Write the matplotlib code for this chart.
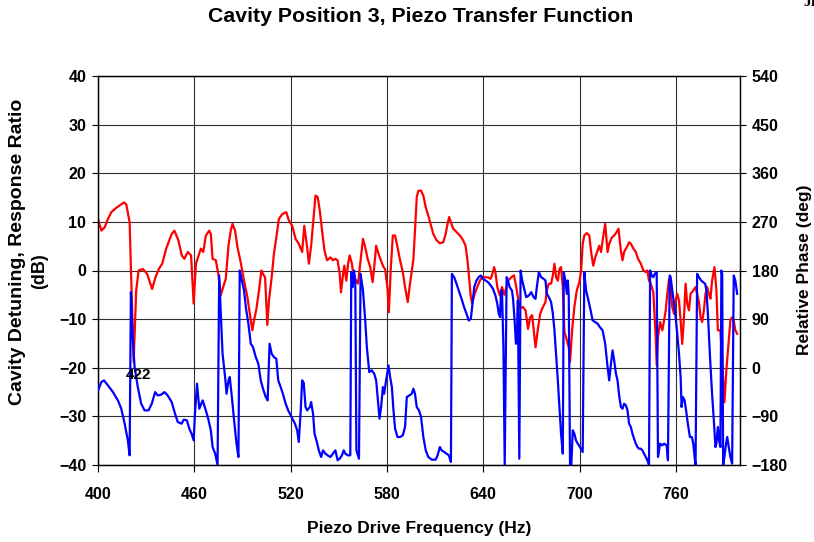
import matplotlib
matplotlib.use('Agg')
import matplotlib.pyplot as plt

# response ratio in dB (left axis)
red_freq = [
    400.0, 402.1, 404.2, 406.2, 408.3, 411.4, 414.5, 416.2, 417.6, 419.7,
    422.2, 423.8, 425.3, 428.0, 430.6, 433.7, 435.8, 437.9, 440.0, 442.5,
    445.9, 447.6, 450.1, 452.2, 453.8, 455.9, 458.0, 459.6, 461.0, 463.1,
    464.1, 465.6, 467.2, 469.3, 470.3, 471.4, 473.4, 475.1, 476.5, 478.0,
    479.6, 481.3, 482.7, 483.8, 485.4, 486.9, 488.9, 491.0, 493.1, 495.2,
    496.2, 497.2, 498.7, 500.3, 501.8, 502.8, 504.1, 505.5, 506.5, 508.2,
    509.6, 511.1, 512.7, 514.8, 517.3, 518.9, 521.0, 523.1, 525.1, 527.2,
    528.5, 530.3, 531.4, 532.8, 534.0, 535.5, 536.9, 538.2, 539.6, 541.1,
    542.7, 544.8, 546.4, 547.9, 549.3, 550.6, 551.4, 552.7, 553.5, 554.7,
    555.8, 556.8, 558.2, 559.3, 560.9, 562.0, 563.4, 565.1, 566.5, 568.0,
    569.6, 571.1, 572.1, 573.3, 574.8, 576.2, 577.9, 578.9, 580.4, 581.2,
    582.4, 583.7, 585.1, 586.6, 588.2, 589.9, 591.3, 593.0, 594.4, 596.5,
    597.5, 598.6, 599.6, 601.3, 602.7, 604.2, 605.8, 607.5, 608.9, 611.0,
    613.0, 615.1, 616.6, 617.8, 618.8, 619.9, 621.3, 623.4, 625.5, 627.5,
    629.0, 630.2, 631.2, 632.3, 633.1, 634.4, 635.8, 637.9, 639.3, 641.0,
    643.0, 644.7, 646.1, 646.8, 647.6, 648.8, 650.3, 651.7, 653.2, 655.4,
    657.5, 659.2, 660.6, 662.7, 664.8, 666.4, 667.9, 669.3, 670.5, 671.4,
    672.6, 674.1, 675.5, 677.2, 678.8, 679.6, 680.9, 682.3, 683.4, 684.4,
    685.4, 686.5, 687.5, 688.5, 689.6, 690.6, 691.6, 693.3, 694.1, 695.4,
    696.8, 698.3, 699.9, 701.0, 702.0, 703.0, 704.5, 706.1, 707.4, 708.6,
    709.8, 711.3, 712.3, 713.4, 714.4, 716.0, 717.5, 718.5, 720.2, 721.6,
    723.1, 724.3, 725.8, 726.8, 727.8, 729.5, 730.9, 732.0, 733.6, 735.1,
    736.5, 738.2, 739.8, 741.3, 742.3, 743.3, 744.4, 746.0, 747.5, 748.1,
    748.9, 750.2, 751.6, 752.7, 753.7, 754.7, 755.8, 756.8, 757.8, 758.9,
    759.9, 760.9, 762.0, 763.0, 764.0, 765.1, 766.1, 767.1, 768.2, 769.2,
    770.9, 772.3, 773.3, 774.4, 775.4, 776.4, 777.5, 778.5, 779.5, 780.6,
    781.6, 782.6, 784.1, 785.3, 786.2, 787.8, 789.5, 790.3, 791.5, 793.0,
    794.0, 795.1, 796.1, 797.1, 798.2,
]
red_db = [
    10.6, 8.2, 8.9, 10.6, 12.0, 12.9, 13.6, 14.0, 13.6, 9.9,
    -18.8, -4.1, 0.0, 0.3, -0.7, -3.8, -1.4, 0.3, 1.4, 4.5,
    7.5, 8.2, 6.2, 3.1, 2.4, 3.8, 3.1, -6.8, 1.4, 3.5,
    4.5, 3.8, 7.2, 8.2, 7.5, 2.4, 2.1, -1.0, -5.1, -3.4,
    -1.7, 5.1, 8.2, 9.6, 8.2, 4.8, 1.7, -2.1, -5.5, -10.3,
    -12.3, -10.3, -7.9, -4.1, 0.0, -0.7, -1.4, -11.2, -6.2, -1.4,
    3.4, 6.8, 10.6, 11.6, 12.0, 10.3, 9.2, 6.5, 5.5, 3.8,
    9.2, 4.8, 1.4, 5.1, 9.6, 15.4, 15.1, 12.3, 8.2, 4.1,
    2.1, 2.7, 2.1, 2.4, 2.1, -0.7, -4.5, -0.7, 1.0, -2.1,
    1.4, 3.1, 1.4, -1.4, -2.1, -2.7, 1.4, 6.5, 4.8, 2.4,
    0.7, -2.4, 0.7, 5.1, 3.4, 2.1, 0.7, 0.3, -3.8, -8.6,
    0.3, 7.2, 7.2, 4.8, 2.1, -0.3, -3.4, -6.5, -2.7, 2.3,
    8.2, 15.1, 16.4, 16.4, 15.4, 13.0, 11.3, 9.2, 7.5, 6.2,
    5.6, 5.8, 7.5, 9.6, 11.0, 9.9, 8.6, 7.9, 7.2, 6.2,
    5.1, 2.1, -1.4, -5.5, -6.8, -5.1, -3.8, -2.1, -1.4, -1.4,
    -1.4, -1.7, -0.3, 0.7, -0.3, -3.4, -5.1, -3.4, -5.0, -2.1,
    -1.4, -1.0, -3.4, -7.8, -7.5, -8.2, -12.0, -9.6, -9.2, -12.0,
    -15.8, -12.0, -8.9, -7.5, -6.5, -4.1, -2.7, -2.7, -1.0, 1.4,
    -1.4, -2.1, 0.3, 0.7, -3.4, -12.7, -13.7, -15.8, -18.8, -12.3,
    -7.5, -4.1, -2.4, 0.0, 5.5, 7.2, 7.7, 7.2, 3.4, 1.0,
    2.7, 4.1, 5.1, 3.8, 6.2, 9.6, 3.8, 5.5, 6.8, 7.2,
    7.9, 8.6, 4.0, 2.1, 3.8, 4.8, 5.8, 5.5, 4.5, 3.8,
    2.4, 1.4, 0.0, -0.3, 0.0, -2.1, -2.7, -4.5, -13.7, -19.5,
    -13.7, -10.6, -12.3, -10.3, -8.2, -4.8, -1.7, -4.1, -7.5, -8.9,
    -6.2, -4.8, -6.2, -10.3, -15.1, -9.6, -2.7, -6.8, -8.2, -4.8,
    -4.1, -3.4, -4.8, -6.5, -9.6, -10.6, -8.2, -4.8, -3.4, -4.8,
    -5.8, -2.1, 0.7, -4.1, -12.3, -12.3, -22.6, -27.1, -20.5, -14.4,
    -10.3, -9.6, -10.3, -12.3, -13.0,
]

# relative phase in degrees (right axis)
blue_freq = [
    400.0, 402.1, 403.7, 406.2, 409.3, 412.4, 414.5, 416.6, 418.6, 419.7,
    420.5, 421.5, 422.8, 424.8, 426.9, 429.0, 431.5, 433.5, 435.6, 437.2,
    439.3, 441.4, 443.4, 445.9, 448.0, 449.7, 452.1, 453.4, 455.4, 456.9,
    458.3, 459.6, 460.4, 461.7, 463.1, 465.2, 467.2, 468.9, 470.3, 471.4,
    473.0, 474.5, 475.5, 476.5, 477.6, 479.2, 480.1, 481.3, 482.1, 483.4,
    484.8, 486.3, 487.5, 488.3, 489.6, 491.0, 492.1, 493.7, 495.2, 496.6,
    498.3, 499.9, 501.4, 502.8, 504.5, 505.7, 506.9, 508.2, 509.6, 511.1,
    512.3, 513.8, 515.2, 516.9, 518.5, 520.6, 522.7, 524.1, 525.1, 526.2,
    527.2, 528.2, 529.3, 530.3, 532.0, 532.8, 534.0, 534.9, 536.1, 537.6,
    539.0, 540.2, 541.7, 543.1, 544.8, 546.4, 547.9, 549.3, 550.6, 552.0,
    553.1, 554.1, 555.6, 557.2, 557.8, 558.7, 559.5, 560.3, 561.0, 562.6,
    563.6, 565.1, 566.5, 567.5, 569.0, 570.6, 572.1, 573.3, 574.2, 575.4,
    576.4, 577.5, 578.3, 579.5, 581.0, 582.0, 583.1, 584.1, 585.1, 586.6,
    588.2, 589.9, 591.3, 592.4, 594.0, 595.5, 596.5, 597.5, 598.6, 600.0,
    601.3, 602.7, 604.2, 605.8, 607.9, 610.4, 611.6, 613.0, 614.1, 615.7,
    617.2, 618.6, 619.9, 620.5, 621.9, 623.4, 624.8, 626.5, 628.1, 629.6,
    631.0, 632.3, 633.1, 634.4, 635.8, 637.2, 638.5, 639.9, 641.4, 643.0,
    644.7, 646.1, 647.6, 648.8, 649.7, 650.5, 651.1, 651.7, 652.6, 653.4,
    654.6, 655.4, 656.5, 657.9, 658.6, 659.6, 660.4, 661.0, 661.6, 662.5,
    663.3, 664.3, 665.8, 666.8, 668.5, 669.9, 671.4, 672.6, 673.4, 674.7,
    676.1, 677.6, 678.8, 679.6, 680.9, 682.3, 683.4, 684.4, 685.4, 686.5,
    687.5, 688.5, 689.6, 690.2, 691.2, 692.1, 692.7, 693.3, 694.1, 694.9,
    695.8, 696.8, 697.8, 698.9, 700.3, 702.0, 703.0, 704.1, 705.1, 706.5,
    708.2, 709.8, 711.3, 712.7, 714.4, 716.0, 717.5, 718.5, 719.6, 720.6,
    721.6, 722.7, 723.7, 724.7, 725.8, 726.8, 727.8, 728.9, 729.9, 730.9,
    732.0, 733.0, 734.0, 735.1, 736.1, 737.1, 738.2, 739.2, 740.2, 741.3,
    742.3, 743.3, 744.0, 745.0, 746.0, 746.9, 748.1, 748.9, 750.2, 751.6,
    752.7, 754.3, 755.1, 756.2, 756.8, 757.8, 758.9, 759.9, 760.9, 762.0,
    763.0, 763.6, 764.4, 765.5, 766.7, 767.5, 768.8, 770.0, 770.9, 771.7,
    772.3, 773.3, 774.4, 775.8, 777.1, 778.3, 779.1, 780.0, 781.2, 782.6,
    783.7, 784.7, 785.3, 786.2, 787.0, 787.8, 788.4, 788.9, 789.5, 790.3,
    791.3, 792.0, 793.0, 794.0, 795.1, 796.1, 797.1, 798.2,
]
blue_deg = [
    -41.9, -26.5, -23.4, -32.7, -45.0, -60.4, -75.8, -103.5, -134.4, -162.1,
    139.9, 62.9, 1.3, -35.7, -66.5, -78.9, -78.9, -66.5, -45.0, -51.2,
    -49.9, -45.0, -51.2, -63.5, -85.1, -100.5, -103.5, -96.1, -97.4, -112.8,
    -122.0, -134.4, -85.1, -29.6, -75.8, -60.4, -78.9, -97.4, -115.9, -146.7,
    -159.0, -180.0, 170.8, 99.9, 26.0, -17.2, -48.1, -23.4, -17.2, -54.2,
    -97.4, -140.5, -165.2, 180.0, 161.5, 143.0, 112.2, 81.4, 44.4, 38.2,
    19.7, 7.4, -23.4, -38.8, -54.2, -60.4, 44.4, 25.9, 19.7, 16.7,
    -23.4, -35.7, -48.1, -66.6, -78.9, -91.2, -103.5, -115.9, -137.4, -85.1,
    -23.4, -28.0, -72.7, -78.9, -72.7, -63.5, -85.1, -122.0, -134.4, -152.9,
    -165.2, -152.9, -159.0, -162.1, -165.2, -159.0, -152.9, -171.3, -168.3, -162.1,
    -152.9, -159.0, -162.1, -162.1, 176.9, 149.2, 180.0, 161.5, -152.9, -168.3,
    173.8, 143.0, 87.5, 38.2, -8.0, -4.9, -11.1, -23.4, -54.2, -94.3,
    -72.7, -35.7, -48.1, -23.4, 4.3, -17.2, -35.7, -78.9, -112.8, -128.2,
    -128.2, -125.1, -109.7, -54.2, -51.2, -48.1, -38.8, -48.1, -72.7, -78.9,
    -91.2, -128.2, -152.9, -165.2, -170.1, -170.1, -162.1, -146.7, -152.9, -155.9,
    -159.0, -162.1, -174.4, 173.8, 167.7, 155.3, 143.0, 127.6, 112.2, 99.9,
    87.5, 90.6, 112.2, 149.2, 161.5, 167.7, 170.8, 164.6, 161.5, 158.4,
    152.3, 146.1, 133.8, 118.4, 99.9, 93.7, 143.0, 143.0, 38.2, -180.0,
    167.7, 161.5, 149.2, 143.0, 127.6, 87.5, 44.4, 50.6, 124.5, -168.3,
    180.0, 161.5, 143.0, 130.7, 133.8, 139.9, 130.7, 127.6, 149.2, 176.9,
    167.7, 164.6, 161.5, 136.9, 130.7, 121.4, 99.9, 69.0, 25.9, -23.4,
    -72.7, -122.0, -159.0, 176.9, 161.5, 136.9, 161.5, 133.8, -180.0, -180.0,
    -115.9, -122.0, -134.4, -140.5, -146.7, -155.9, 176.9, 143.0, 130.7, 112.2,
    87.5, 84.5, 81.4, 75.2, 69.0, 44.4, 1.3, -23.4, 7.4, 32.1,
    13.6, -11.1, -23.4, -51.2, -72.7, -75.8, -66.6, -69.6, -78.9, -103.5,
    -109.7, -122.0, -131.3, -140.5, -146.7, -149.8, -149.8, -152.9, -159.0, -165.2,
    -171.3, -180.0, 180.0, 170.8, 167.7, 173.8, 176.9, -165.2, -140.5, -143.6,
    -140.5, -143.6, -171.3, 170.8, 167.7, 143.0, 118.4, 93.7, 62.9, 25.9,
    -17.2, -72.7, -54.2, -60.4, -85.1, -103.5, -128.2, -128.2, -140.5, -165.2,
    -180.0, 173.8, 167.7, 161.5, 158.4, 155.3, 143.0, 99.9, 25.9, -48.1,
    -97.4, -146.7, -140.5, -109.7, -134.4, -146.7, 180.0, 173.8, -180.0, -165.2,
    -140.5, -128.2, -146.7, -165.2, -177.5, 170.8, 161.5, 136.9,
]

x_ticks = [400, 460, 520, 580, 640, 700, 760]
db_ticks = [-40, -30, -20, -10, 0, 10, 20, 30, 40]
deg_ticks = [-180, -90, 0, 90, 180, 270, 360, 450, 540]

plt.rcParams['font.family'] = ['Liberation Sans', 'DejaVu Sans']
plt.rcParams['font.weight'] = 'bold'

fig = plt.figure(figsize=(8.14, 5.42), dpi=100)
fig.patch.set_facecolor('white')
W, H = 814.0, 542.0
ax = fig.add_axes([98 / W, 1 - 465 / H, (740 - 98) / W, (465 - 76) / H])

ax.plot(red_freq, red_db, color='#ff0000', linewidth=1.6, zorder=3)
ax.set_xlim(400, 800)
ax.set_ylim(-40, 40)
ax.set_xticks(x_ticks)
ax.set_yticks(db_ticks)
ax.grid(True, color='#303030', linewidth=0.8)
ax.set_axisbelow(True)
ax.tick_params(axis='x', direction='out', length=5, width=0.8, pad=11, labelsize=11.5)
ax.tick_params(axis='y', direction='out', length=4.5, width=0.8, pad=4, labelsize=11.5)

ax2 = ax.twinx()
ax2.plot(blue_freq, blue_deg, color='#0000ff', linewidth=1.6, zorder=3)
ax2.set_ylim(-180, 540)
ax2.set_yticks(deg_ticks)
ax2.tick_params(axis='y', direction='out', length=4.5, width=0.8, pad=4, labelsize=11.5)
# marker label for the 422 Hz resonance (sits at about -21.5 dB)
ax2.text(425.3, -13.5, '422', ha='center', va='center', fontsize=11,
         fontweight='bold', zorder=5)

for a in (ax, ax2):
    for s in a.spines.values():
        s.set_color('black')
        s.set_linewidth(0.9)

fig.text(421 / W, 1 - 17 / H, 'Cavity Position 3, Piezo Transfer Function',
         ha='center', va='center', fontsize=15.3, fontweight='bold')
fig.text(419 / W, 1 - 528 / H, 'Piezo Drive Frequency (Hz)',
         ha='center', va='center', fontsize=12.5, fontweight='bold')
fig.text(18 / W, 1 - 252 / H, 'Cavity Detuning, Response Ratio',
         ha='center', va='center', rotation=90, fontsize=14, fontweight='bold')
fig.text(40 / W, 1 - 271 / H, '(dB)',
         ha='center', va='center', rotation=90, fontsize=13, fontweight='bold')
fig.text(805 / W, 1 - 270 / H, 'Relative Phase (deg)',
         ha='center', va='center', rotation=90, fontsize=12.5, fontweight='bold')
fig.text(803 / W, 1 - 3 / H, 'JL', ha='left', va='center', fontsize=11,
         fontweight='bold', family=['Liberation Serif', 'DejaVu Serif'])

fig.savefig('out.png', dpi=100, facecolor='white')
